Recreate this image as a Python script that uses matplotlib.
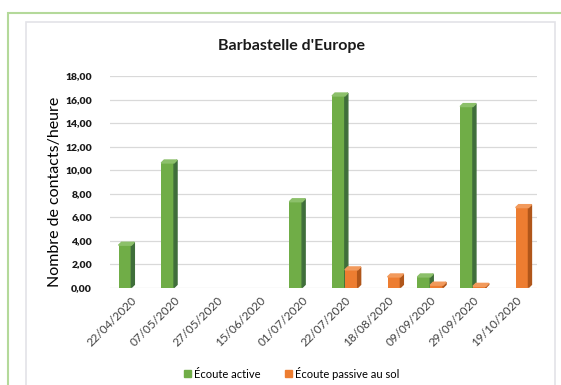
import numpy as np
import matplotlib.pyplot as plt
from matplotlib.patches import Rectangle, Polygon

plt.rcParams['font.family'] = ['Lato', 'DejaVu Sans']

# data
dates = ['22/04/2020', '07/05/2020', '27/05/2020', '15/06/2020', '01/07/2020',
         '22/07/2020', '18/08/2020', '09/09/2020', '29/09/2020', '19/10/2020']
active = [3.6, 10.6, 0, 0, 7.3, 16.3, 0, 0.9, 15.4, 0]
passive = [0, 0, 0, 0, 0, 1.5, 0.9, 0.2, 0.1, 6.8]
y_ticks = np.arange(0, 19, 2)

green, green_dark, green_top = '#70AD47', '#3F6E3A', '#8CC06A'
orange, orange_dark, orange_top = '#ED7D31', '#B0561A', '#F29A5C'

fig = plt.figure(figsize=(5.61, 3.85), dpi=100)

# frame lines around the chart
fig.add_artist(Rectangle((8 / 561, -0.1), 1.2, (385 - 13) / 385 + 0.1, transform=fig.transFigure,
                         fill=False, edgecolor='#B4D99A', lw=1.5))
fig.add_artist(Rectangle((26 / 561, -0.1), (555 - 26) / 561, (385 - 22) / 385 + 0.1,
                         transform=fig.transFigure, fill=False, edgecolor='#E3E3E8', lw=1.2))

ax = fig.add_axes([110 / 561, 97.5 / 385, 427 / 561, 211.5 / 385])
x = np.arange(len(dates))
w = 0.3
dx, dy = 0.07, 0.25


def bars_3d(xs, vals, col, dark, top):
    ax.bar(xs, vals, w, color=col, zorder=3)
    for xi, v in zip(xs, vals):
        if v <= 0:
            continue
        r = xi + w / 2
        l = xi - w / 2
        ax.add_patch(Polygon([(r, 0), (r + dx, dy), (r + dx, v + dy), (r, v)],
                             closed=True, color=dark, zorder=3))
        ax.add_patch(Polygon([(l, v), (l + dx, v + dy), (r + dx, v + dy), (r, v)],
                             closed=True, color=top, zorder=3))


bars_3d(x - w / 2, active, green, green_dark, green_top)
bars_3d(x + w / 2, passive, orange, orange_dark, orange_top)

ax.set_xlim(-0.5, len(dates) - 0.5)
ax.set_ylim(0, 18)
ax.set_yticks(y_ticks)
ax.set_yticklabels([f'{v:.2f}'.replace('.', ',') for v in y_ticks],
                   fontsize=7.5, fontweight='heavy', color='#1a1a1a')
ax.set_xticks(x)
ax.set_xticklabels(dates, rotation=45, ha='right', rotation_mode='anchor',
                   fontsize=8.5, color='#404040')
ax.tick_params(axis='y', length=0, pad=13)
ax.tick_params(axis='x', length=0, pad=5)
ax.yaxis.grid(True, color='#D9D9D9', lw=0.9)
ax.set_axisbelow(True)
for s in ax.spines.values():
    s.set_visible(False)

fig.text(55 / 561, 1 - 192 / 385, 'Nombre de contacts/heure', rotation=90,
         ha='center', va='center', fontsize=11.5, color='black')
fig.text(292 / 561, 1 - 46 / 385, "Barbastelle d'Europe", ha='center', va='center',
         fontsize=11.5, fontweight='bold', color='#1a1a1a')

handles = [Rectangle((0, 0), 1, 1, color=green), Rectangle((0, 0), 1, 1, color=orange)]
fig.legend(handles, ['Écoute active', 'Écoute passive au sol'], loc='center',
           bbox_to_anchor=(292 / 561, 1 - 373 / 385), ncol=2, frameon=False,
           fontsize=8, handlelength=0.6, handleheight=0.6, handletextpad=0.3,
           columnspacing=2.2)

fig.savefig('out.png', dpi=100)
